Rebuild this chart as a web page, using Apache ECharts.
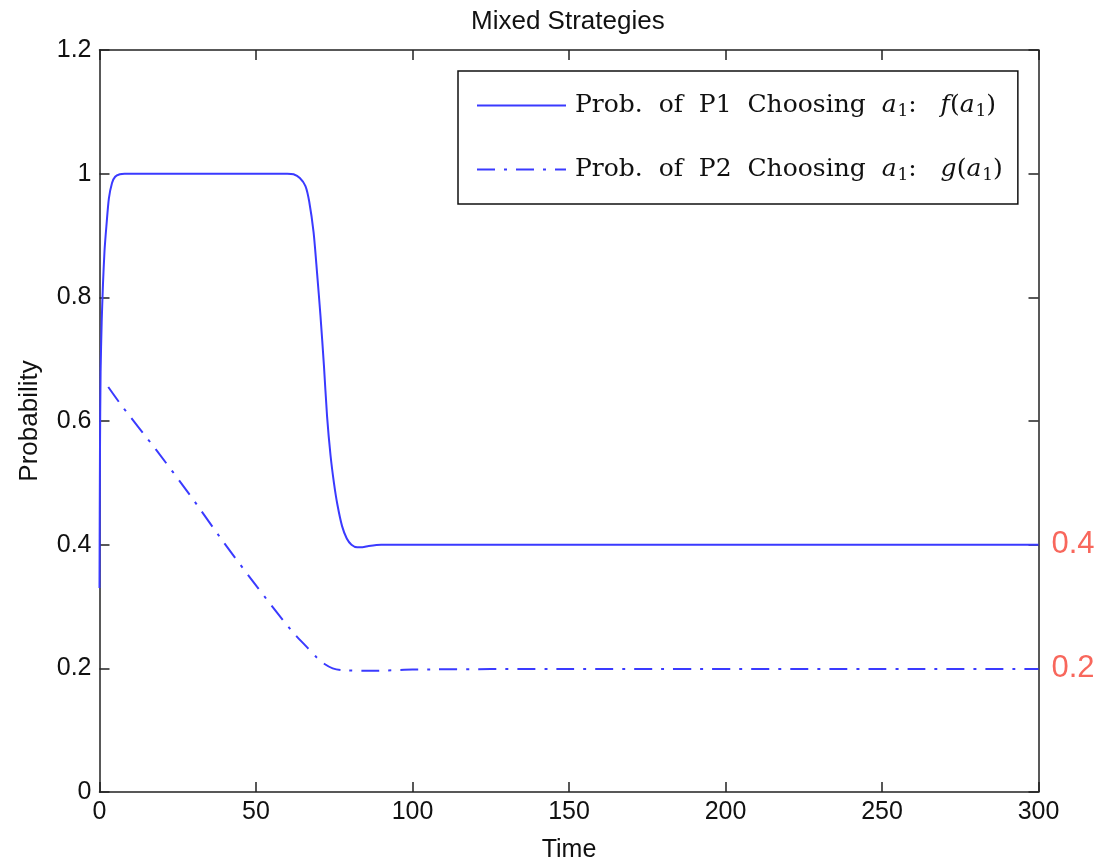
<!DOCTYPE html>
<html>
<head>
<meta charset="utf-8">
<script src="https://cdn.jsdelivr.net/npm/echarts@6/dist/echarts.min.js"></script>
<style>
html,body{margin:0;padding:0;background:#fff;}
#chart{width:1110px;height:866px;}
</style>
</head>
<body>
<div id="chart"></div>
<script>
// ---- data ----
var titleText = 'Mixed Strategies';
var xName = 'Time';
var yName = 'Probability';
var xTicks = [0, 50, 100, 150, 200, 250, 300];
var yTicks = [0, 0.2, 0.4, 0.6, 0.8, 1, 1.2];
var rightLabels = [0.2, 0.4];

// P1: probability of choosing a1, f(a1)  [time, value]
var p1Points = [
  [0, 0.33], [0.15, 0.55], [0.35, 0.68], [0.7, 0.76], [1.1, 0.82], [1.6, 0.875],
  [2.2, 0.915], [3, 0.96], [4, 0.985], [5, 0.995], [6.5, 0.999], [8, 1.0],
  [60, 1.0], [62, 0.999], [64, 0.993], [65.8, 0.98], [67, 0.955], [68.4, 0.905],
  [69.5, 0.84], [70.6, 0.77], [71.7, 0.69], [72.7, 0.608], [73.8, 0.545],
  [74.9, 0.5], [76, 0.465], [77.5, 0.43], [79, 0.41], [80.5, 0.4], [82.3, 0.396],
  [84, 0.396], [86, 0.398], [90, 0.4], [300, 0.4]
];
// P2: probability of choosing a1, g(a1)  [time, value]
var p2Points = [
  [2.8, 0.655], [7.2, 0.624], [18, 0.554], [28.8, 0.481], [39.5, 0.405],
  [50.3, 0.332], [61, 0.263], [66.5, 0.233], [69.5, 0.217], [71.9, 0.207],
  [74.5, 0.2], [77.3, 0.197], [87, 0.196], [100, 0.198], [150, 0.199], [300, 0.199]
];
var p1Label = '{n0|Prob.  of  P1  Choosing  }{i|a}{s|1}{n|:   }{i|f}{n|(}{i|a}{s|1}{n|)}';
var p2Label = '{n0|Prob.  of  P2  Choosing  }{i|a}{s|1}{n|:   }{i|g}{n|(}{i|a}{s|1}{n|)}';

var chart = echarts.init(document.getElementById('chart'), null, {renderer: 'canvas'});
var axisColor = '#222';
var sans = 'Liberation Sans';
var serif = 'DejaVu Serif';
var lineBlue = '#3a3aff';

var option = {
  backgroundColor: '#ffffff',
  animation: false,
  title: {
    text: titleText,
    left: 471, top: 9, padding: 0,
    textStyle: {fontFamily: sans, fontSize: 26, fontWeight: 'normal', color: '#111'}
  },
  grid: {left: 99.5, right: 71.5, top: 50, bottom: 74, containLabel: false, outerBoundsMode: 'none'},
  legend: {
    orient: 'vertical',
    left: 458, top: 71,
    padding: [22, 15, 20, 18],
    itemGap: 37,
    itemWidth: 89, itemHeight: 28,
    borderColor: '#111', borderWidth: 1.5, borderRadius: 0,
    backgroundColor: '#fff',
    itemStyle: {opacity: 0},
    data: ['p1', 'p2'],
    formatter: function (name) { return name === 'p1' ? p1Label : p2Label; },
    textStyle: {
      color: '#111',
      rich: {
        n0: {fontFamily: serif, fontSize: 25, color: '#111', padding: [0, 0, 0, 4]},
        n: {fontFamily: serif, fontSize: 25, color: '#111', padding: [0, 0, 0, 0]},
        i: {fontFamily: serif, fontSize: 25, fontStyle: 'italic', color: '#111'},
        s: {fontFamily: serif, fontSize: 17, color: '#111', padding: [12, 0, 0, 1]}
      }
    }
  },
  xAxis: [{
    type: 'value', min: 0, max: 300, interval: 50, position: 'bottom',
    name: xName, nameLocation: 'middle', nameGap: 46,
    nameTextStyle: {fontFamily: sans, fontSize: 25, color: '#111'},
    axisLine: {show: true, onZero: false, lineStyle: {color: axisColor, width: 1.5}},
    axisTick: {show: true, inside: true, length: 10, lineStyle: {color: axisColor, width: 1.5}},
    axisLabel: {fontFamily: sans, fontSize: 25, color: '#111', margin: 8,
      customValues: xTicks},
    splitLine: {show: false}
  }, {
    type: 'value', min: 0, max: 300, interval: 50, position: 'top',
    axisLine: {show: true, onZero: false, lineStyle: {color: axisColor, width: 1.5}},
    axisTick: {show: true, inside: true, length: 10, lineStyle: {color: axisColor, width: 1.5}},
    axisLabel: {show: false},
    splitLine: {show: false}
  }],
  yAxis: [{
    type: 'value', min: 0, max: 1.2, interval: 0.2, position: 'left',
    name: yName, nameLocation: 'middle', nameGap: 57, nameRotate: 90,
    nameTextStyle: {fontFamily: sans, fontSize: 26, color: '#111'},
    axisLine: {show: true, onZero: false, lineStyle: {color: axisColor, width: 1.5}},
    axisTick: {show: true, inside: true, length: 10, lineStyle: {color: axisColor, width: 1.5}},
    axisLabel: {fontFamily: sans, fontSize: 25, color: '#111', margin: 8,
      formatter: function (v) {
        for (var k = 0; k < yTicks.length; k++) {
          if (Math.abs(v - yTicks[k]) < 1e-6) return String(yTicks[k]);
        }
        return '';
      }},
    splitLine: {show: false}
  }, {
    type: 'value', min: 0, max: 1.2, interval: 0.2, position: 'right',
    axisLine: {show: true, onZero: false, lineStyle: {color: axisColor, width: 1.5}},
    axisTick: {show: true, inside: true, length: 10, lineStyle: {color: axisColor, width: 1.5}},
    axisLabel: {
      fontFamily: sans, fontSize: 31, color: '#f8675c', margin: 13,
      formatter: function (v) {
        for (var k = 0; k < rightLabels.length; k++) {
          if (Math.abs(v - rightLabels[k]) < 1e-6) return String(rightLabels[k]);
        }
        return '';
      }
    },
    splitLine: {show: false}
  }],
  series: [{
    name: 'p1', type: 'line', xAxisIndex: 0, yAxisIndex: 0,
    data: p1Points, showSymbol: false, symbol: 'none', smooth: 0.25,
    lineStyle: {color: lineBlue, width: 2, type: 'solid'},
    itemStyle: {color: lineBlue}
  }, {
    name: 'p2', type: 'line', xAxisIndex: 0, yAxisIndex: 0,
    data: p2Points, showSymbol: false, symbol: 'none', smooth: 0.25,
    lineStyle: {color: lineBlue, width: 2, type: [18, 9, 3, 9]},
    itemStyle: {color: lineBlue}
  }]
};
chart.setOption(option);
</script>
</body>
</html>
